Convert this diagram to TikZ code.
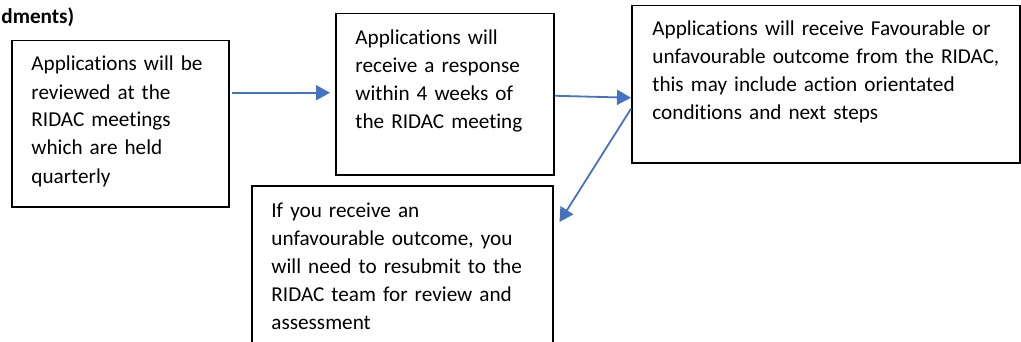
\documentclass[tikz,border=0pt]{standalone}
\usepackage{fontspec}
\setmainfont{Carlito}[Ligatures=NoCommon]
\usepackage{tikz}
\usetikzlibrary{positioning, arrows.meta}
\definecolor{RDBlue}{RGB}{68,114,196}

\begin{document}
\begin{tikzpicture}[x=0.5pt, y=-0.5pt,
          stagebox/.style={draw, line width=0.75pt, rectangle, anchor=north west,
                           inner sep=0pt},
          stagetxt/.style={anchor=base west, inner sep=0pt, text width=#1,
                           align=left, font=\fontsize{10.6}{14}\selectfont},
          flow/.style={-{Triangle[length=7pt, width=7.5pt]}, line width=0.9pt,
                       draw=RDBlue}
        ]
        \clip (0,0) rectangle (1021,342);

        \node[font=\fontsize{10.6}{14}\selectfont\bfseries, anchor=base west,
              inner sep=0pt] (title) at (1,24) {dments)};

        % Boxes left to right
        \node[stagebox, minimum width=108.5pt, minimum height=83pt]
              (rev) at (11,40) {};
        \node[stagetxt=95pt] (revtxt) at ([xshift=10pt, yshift=-15.5pt]rev.north west)
              {Applications will be\\reviewed at the\\RIDAC meetings\\which are held\\quarterly};

        \node[stagebox, minimum width=109pt, minimum height=80.5pt]
              (resp) at (335,13) {};
        \node[stagetxt=95pt] (resptxt) at ([xshift=10pt, yshift=-16pt]resp.north west)
              {Applications will\\receive a response\\within 4 weeks of\\the RIDAC meeting};

        \node[stagebox, minimum width=194pt, minimum height=78.5pt]
              (outc) at (631,5) {};
        \node[stagetxt=180pt] (outctxt) at ([xshift=10.5pt, yshift=-15.5pt]outc.north west)
              {Applications will receive Favourable or\\unfavourable outcome from the RIDAC,\\this may include action orientated\\conditions and next steps};

        \node[stagebox, minimum width=150.5pt, minimum height=85pt]
              (resub) at (251,185) {};
        \node[stagetxt=135pt] (resubtxt) at ([xshift=10pt, yshift=-16pt]resub.north west)
              {If you receive an\\unfavourable outcome, you\\will need to resubmit to the\\RIDAC team for review and\\assessment};

        \draw[flow] ([xshift=1pt, yshift=15.5pt]rev.east) -- ([xshift=-2.5pt, yshift=0.75pt]resp.west);
        \draw[flow] ([yshift=-0.75pt]resp.east) -- ([yshift=-6.75pt]outc.west);
        \draw[flow] ([yshift=-12.25pt]outc.west) -- ([xshift=3pt, yshift=-18.5pt]resub.north east);
      \end{tikzpicture}
\end{document}
